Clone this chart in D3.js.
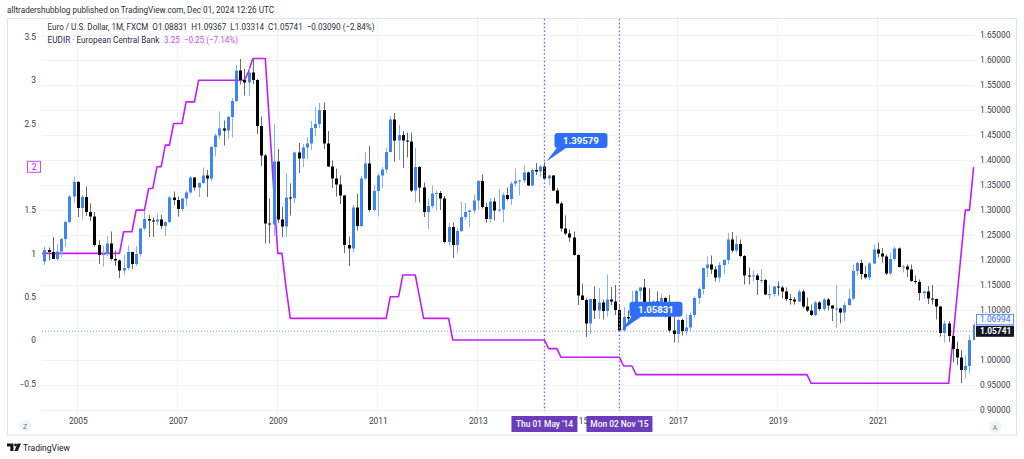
<!DOCTYPE html>
<html><head><meta charset="utf-8">
<script src="https://cdn.jsdelivr.net/npm/d3@7"></script>
<style>
body{margin:0;background:#fff;}
svg{display:block;font-family:Roboto,"Liberation Sans",sans-serif;}
</style>
</head><body><svg id="c" width="1024" height="459"></svg>
<script>
// ---------- DATA (monthly, first bar = Apr 2004) ----------
const firstYear = 2004, firstMonth = 3; // April (0-based)
const opens = [
 1.229,1.197,1.220,1.216,1.202,1.217,1.242,1.276,1.327,
 1.356,1.304,1.326,1.296,1.287,1.230,1.210,1.212,1.233,1.202,1.199,1.179,
 1.184,1.216,1.192,1.212,1.263,1.282,1.279,1.277,1.281,1.268,1.276,1.325,
 1.320,1.302,1.323,1.335,1.365,1.345,1.354,1.369,1.363,1.426,1.449,1.463,
 1.459,1.486,1.518,1.579,1.560,1.555,1.575,1.560,1.468,1.409,1.273,1.271,
 1.397,1.281,1.267,1.325,1.324,1.415,1.403,1.425,1.433,1.464,1.472,1.500,
 1.433,1.387,1.363,1.351,1.329,1.230,1.223,1.305,1.268,1.363,1.393,1.300,
 1.338,1.369,1.381,1.416,1.481,1.439,1.450,1.439,1.437,1.339,1.386,1.345,
 1.296,1.308,1.333,1.334,1.323,1.236,1.266,1.230,1.258,1.286,1.296,1.299,
 1.319,1.358,1.306,1.282,1.317,1.299,1.301,1.330,1.322,1.353,1.358,1.359,
 1.375,1.349,1.380,1.377,1.387,1.363,1.369,1.339,1.313,1.263,1.253,1.245,
 1.210,1.129,1.120,1.073,1.122,1.099,1.115,1.098,1.121,1.117,1.100,1.059,
 1.086,1.083,1.087,1.138,1.145,1.113,1.110,1.117,1.116,1.124,1.098,1.059,
 1.052,1.080,1.058,1.065,1.090,1.124,1.142,1.184,1.191,1.181,1.165,1.190,
 1.200,1.241,1.219,1.232,1.208,1.169,1.168,1.169,1.160,1.160,1.131,1.132,
 1.147,1.145,1.137,1.122,1.121,1.117,1.137,1.107,1.099,1.090,1.115,1.102,
 1.121,1.109,1.103,1.103,1.095,1.110,1.123,1.178,1.194,1.172,1.165,1.193,
 1.221,1.213,1.207,1.173,1.202,1.223,1.186,1.187,1.181,1.158,1.156,1.134,
 1.137,1.123,1.122,1.107,1.054,1.073,1.048,1.022,1.005,0.980,0.988,1.040];
const highs = [
 1.242,1.227,1.225,1.246,1.232,1.244,1.279,1.330,1.367,
 1.358,1.330,1.347,1.313,1.296,1.240,1.229,1.248,1.257,1.219,1.201,1.210,
 1.229,1.216,1.228,1.264,1.298,1.290,1.285,1.293,1.290,1.278,1.328,1.337,
 1.327,1.324,1.339,1.368,1.366,1.355,1.385,1.380,1.428,1.453,1.497,1.479,
 1.488,1.524,1.590,1.602,1.582,1.584,1.604,1.562,1.487,1.412,1.323,1.472,
 1.422,1.306,1.374,1.353,1.417,1.434,1.432,1.445,1.478,1.506,1.514,1.515,
 1.458,1.399,1.383,1.369,1.330,1.247,1.310,1.333,1.368,1.416,1.428,1.350,
 1.373,1.386,1.425,1.488,1.494,1.470,1.458,1.455,1.455,1.425,1.388,1.355,
 1.323,1.349,1.339,1.338,1.328,1.275,1.275,1.264,1.317,1.314,1.301,1.331,
 1.360,1.371,1.314,1.324,1.324,1.342,1.335,1.345,1.357,1.383,1.361,1.389,
 1.377,1.383,1.394,1.390,1.3958,1.370,1.370,1.344,1.317,1.289,1.261,1.257,
 1.211,1.153,1.123,1.122,1.147,1.144,1.121,1.171,1.146,1.150,1.110,1.106,
 1.099,1.138,1.141,1.146,1.162,1.143,1.119,1.137,1.133,1.126,1.130,1.087,
 1.083,1.083,1.091,1.095,1.127,1.145,1.185,1.207,1.209,1.188,1.196,1.202,
 1.254,1.256,1.248,1.241,1.210,1.185,1.179,1.173,1.182,1.162,1.150,1.148,
 1.157,1.149,1.145,1.132,1.126,1.141,1.141,1.125,1.111,1.118,1.118,1.124,
 1.124,1.110,1.150,1.105,1.115,1.142,1.191,1.197,1.201,1.188,1.196,1.231,
 1.235,1.224,1.211,1.215,1.227,1.225,1.190,1.191,1.191,1.169,1.161,1.139,
 1.148,1.150,1.123,1.108,1.079,1.078,1.049,1.037,1.020,1.009,1.050,1.074];
const lows = [
 1.176,1.190,1.199,1.202,1.198,1.205,1.226,1.274,1.314,
 1.286,1.281,1.288,1.278,1.227,1.192,1.187,1.207,1.199,1.188,1.164,1.171,
 1.180,1.182,1.188,1.206,1.260,1.246,1.246,1.270,1.262,1.248,1.274,1.310,
 1.287,1.297,1.308,1.333,1.339,1.326,1.352,1.326,1.357,1.407,1.442,1.429,
 1.443,1.445,1.515,1.551,1.529,1.528,1.552,1.452,1.388,1.233,1.233,1.248,
 1.274,1.246,1.246,1.289,1.314,1.374,1.386,1.401,1.420,1.448,1.464,1.422,
 1.386,1.344,1.327,1.312,1.214,1.188,1.215,1.259,1.265,1.360,1.297,1.297,
 1.287,1.344,1.374,1.415,1.397,1.400,1.384,1.405,1.336,1.315,1.315,1.286,
 1.262,1.303,1.300,1.300,1.233,1.229,1.204,1.213,1.256,1.280,1.266,1.293,
 1.300,1.303,1.275,1.275,1.279,1.296,1.275,1.319,1.310,1.347,1.329,1.354,
 1.348,1.347,1.370,1.367,1.360,1.350,1.338,1.313,1.257,1.250,1.236,1.209,
 1.110,1.126,1.046,1.052,1.082,1.082,1.081,1.087,1.110,1.090,1.0583,1.058,
 1.071,1.081,1.082,1.121,1.110,1.091,1.095,1.105,1.112,1.085,1.055,1.035,
 1.034,1.049,1.050,1.057,1.084,1.112,1.131,1.166,1.172,1.157,1.155,1.172,
 1.192,1.215,1.215,1.206,1.151,1.151,1.157,1.130,1.153,1.130,1.122,1.127,
 1.129,1.123,1.118,1.111,1.111,1.116,1.103,1.096,1.088,1.088,1.098,1.098,
 1.099,1.078,1.064,1.073,1.077,1.108,1.119,1.169,1.161,1.162,1.160,1.192,
 1.205,1.195,1.170,1.170,1.199,1.185,1.175,1.166,1.156,1.152,1.119,1.122,
 1.112,1.111,1.081,1.047,1.035,1.036,0.995,0.990,0.954,0.963,0.973,1.039];
const closes = [
 1.197,1.220,1.216,1.202,1.217,1.242,1.276,1.327,1.356,
 1.304,1.326,1.296,1.287,1.230,1.210,1.212,1.233,1.202,1.199,1.179,1.184,
 1.216,1.192,1.212,1.263,1.282,1.279,1.277,1.281,1.268,1.276,1.325,1.320,
 1.302,1.323,1.335,1.365,1.345,1.354,1.369,1.363,1.426,1.449,1.463,1.459,
 1.486,1.518,1.579,1.560,1.555,1.575,1.560,1.468,1.409,1.273,1.271,1.397,
 1.281,1.267,1.325,1.324,1.415,1.403,1.425,1.433,1.464,1.472,1.500,1.433,
 1.387,1.363,1.351,1.329,1.230,1.223,1.305,1.268,1.363,1.393,1.300,1.338,
 1.369,1.381,1.416,1.481,1.439,1.450,1.439,1.437,1.339,1.386,1.345,1.296,
 1.308,1.333,1.334,1.323,1.236,1.266,1.230,1.258,1.286,1.296,1.299,1.319,
 1.358,1.306,1.282,1.317,1.299,1.301,1.330,1.322,1.353,1.358,1.359,1.375,
 1.349,1.380,1.377,1.387,1.363,1.369,1.339,1.313,1.263,1.253,1.245,1.210,
 1.129,1.120,1.073,1.122,1.099,1.115,1.098,1.121,1.117,1.100,1.059,1.086,
 1.083,1.087,1.138,1.145,1.113,1.110,1.117,1.116,1.124,1.098,1.059,1.052,
 1.080,1.058,1.065,1.090,1.124,1.142,1.184,1.191,1.181,1.165,1.190,1.200,
 1.241,1.219,1.232,1.208,1.169,1.168,1.169,1.160,1.160,1.131,1.132,1.147,
 1.145,1.137,1.122,1.121,1.117,1.137,1.107,1.099,1.090,1.115,1.102,1.121,
 1.109,1.103,1.103,1.095,1.110,1.123,1.178,1.194,1.172,1.165,1.193,1.221,
 1.213,1.207,1.173,1.202,1.223,1.186,1.187,1.181,1.158,1.156,1.134,1.137,
 1.123,1.122,1.107,1.054,1.073,1.048,1.022,1.005,0.980,0.988,1.040,1.070];
// ECB deposit facility rate (EUDIR), monthly
const rates = [
 1,1,1,1,1,1,1,1,1,
 1,1,1,1,1,1,1,1,1,1,1,1.25,
 1.25,1.25,1.5,1.5,1.5,1.75,1.75,2,2,2.25,2.25,2.5,
 2.5,2.5,2.75,2.75,2.75,3,3,3,3,3,3,3,
 3,3,3,3,3,3.1,3.25,3.25,3.25,3.25,2.5,1.75,
 1,1,0.6,0.25,0.25,0.25,0.25,0.25,0.25,0.25,0.25,0.25,
 0.25,0.25,0.25,0.25,0.25,0.25,0.25,0.25,0.25,0.25,0.25,0.25,
 0.25,0.25,0.25,0.5,0.5,0.5,0.75,0.75,0.75,0.75,0.5,0.25,
 0.25,0.25,0.25,0.25,0.25,0.25,0,0,0,0,0,0,
 0,0,0,0,0,0,0,0,0,0,0,0,
 0,0,0,0,0,-0.1,-0.1,-0.1,-0.2,-0.2,-0.2,-0.2,
 -0.2,-0.2,-0.2,-0.2,-0.2,-0.2,-0.2,-0.2,-0.2,-0.2,-0.2,-0.3,
 -0.3,-0.3,-0.4,-0.4,-0.4,-0.4,-0.4,-0.4,-0.4,-0.4,-0.4,-0.4,
 -0.4,-0.4,-0.4,-0.4,-0.4,-0.4,-0.4,-0.4,-0.4,-0.4,-0.4,-0.4,
 -0.4,-0.4,-0.4,-0.4,-0.4,-0.4,-0.4,-0.4,-0.4,-0.4,-0.4,-0.4,
 -0.4,-0.4,-0.4,-0.4,-0.4,-0.4,-0.4,-0.4,-0.5,-0.5,-0.5,-0.5,
 -0.5,-0.5,-0.5,-0.5,-0.5,-0.5,-0.5,-0.5,-0.5,-0.5,-0.5,-0.5,
 -0.5,-0.5,-0.5,-0.5,-0.5,-0.5,-0.5,-0.5,-0.5,-0.5,-0.5,-0.5,
 -0.5,-0.5,-0.5,-0.5,-0.5,-0.5,0,0.5,1,1.5,1.5,2];
const yearTicks = [2005,2007,2009,2011,2013,2015,2017,2019,2021];
const priceTicks = [0.90,0.95,1.00,1.10,1.15,1.20,1.25,1.30,1.35,1.40,1.45,1.50,1.55,1.60,1.65];
const priceGrid = [0.90,0.95,1.00,1.05,1.10,1.15,1.20,1.25,1.30,1.35,1.40,1.45,1.50,1.55,1.60,1.65];
const rateTicks = [-0.5,0,0.5,1,1.5,2.5,3,3.5];
const lastClose = 1.05741, lastVisibleClose = 1.06994, lastRate = 2;
const markers = [{idx:121, price:1.39579, date:"Thu 01 May '14"}, {idx:139, price:1.05831, date:"Mon 02 Nov '15"}];
const titleText = "alltradershubblog published on TradingView.com, Dec 01, 2024 12:26 UTC";
const legend1 = "Euro / U.S. Dollar, 1M, FXCM  O1.08831  H1.09367  L1.03314  C1.05741  \u22120.03090 (\u22122.84%)";
const legend2a = "EUDIR \u00b7 European Central Bank";
const legend2b = "3.25  \u22120.25 (\u22127.14%)";

// ---------- LAYOUT ----------
const svg = d3.select("#c");
const P = {l:42, r:975, t:19, b:411};
const mIdx = i => i + (firstYear - 2005) * 12 + firstMonth;   // months since Jan 2005
const x = d3.scaleLinear().domain([0, 192]).range([77.8, 877.8]);
const yP = d3.scaleLinear().domain([0.90, 1.65]).range([410, 35]);
const yR = d3.scaleLinear().domain([-0.5, 3.5]).range([383.3, 36.9]);
const axisColor = "#3a3e48", fs = 8.4;

// frame
svg.append("rect").attr("x",7.5).attr("y",18.5).attr("width",1009).attr("height",416.5)
  .attr("fill","none").attr("stroke","#e0e3eb");

// grid
const grid = svg.append("g");
grid.selectAll("line.h").data(priceGrid).join("line")
  .attr("x1",P.l).attr("x2",P.r).attr("y1",d=>Math.round(yP(d))+0.5).attr("y2",d=>Math.round(yP(d))+0.5)
  .attr("stroke","#f0f3fa");
grid.selectAll("line.v").data(yearTicks).join("line")
  .attr("y1",P.t).attr("y2",P.b+4).attr("x1",d=>Math.floor(x((d-2005)*12))+0.5).attr("x2",d=>Math.floor(x((d-2005)*12))+0.5)
  .attr("stroke","#f0f3fa");

// clip
svg.append("clipPath").attr("id","pc").append("rect")
  .attr("x",P.l).attr("y",P.t).attr("width",P.r-P.l).attr("height",P.b-P.t);
const plot = svg.append("g").attr("clip-path","url(#pc)");

// last price dotted line
plot.append("line").attr("x1",P.l).attr("x2",P.r)
  .attr("y1",yP(lastClose)).attr("y2",yP(lastClose))
  .attr("stroke","#9598a1").attr("stroke-dasharray","1,2");

// rate line
const rateLine = d3.line().x((d,i)=>x(mIdx(i))).y(d=>yR(d));
plot.append("path").datum(rates).attr("d",rateLine)
  .attr("fill","none").attr("stroke","#c21cff").attr("stroke-width",1.6).attr("stroke-linejoin","round");

// candles
const up = "#3d85f5", upW = "#86b2f8", dn = "#000", dnW = "#6a6a6a";
const cd = opens.map((o,i)=>({o, h:highs[i], l:lows[i], c:closes[i], i}));
const cg = plot.append("g");
cg.selectAll("line").data(cd).join("line")
  .attr("x1",d=>Math.round(x(mIdx(d.i)))+0.5).attr("x2",d=>Math.round(x(mIdx(d.i)))+0.5)
  .attr("y1",d=>yP(d.h)).attr("y2",d=>yP(d.l))
  .attr("stroke",d=>d.c>=d.o?upW:dnW).attr("stroke-width",1);
cg.selectAll("rect").data(cd).join("rect")
  .attr("x",d=>Math.round(x(mIdx(d.i)))-1).attr("width",3)
  .attr("y",d=>yP(Math.max(d.o,d.c)))
  .attr("height",d=>Math.max(1, yP(Math.min(d.o,d.c))-yP(Math.max(d.o,d.c))))
  .attr("fill",d=>d.c>=d.o?up:dn);

// dotted verticals
markers.forEach(m=>{
  const mx = x(mIdx(m.idx));
  svg.append("line").attr("x1",mx).attr("x2",mx).attr("y1",P.t).attr("y2",P.b)
    .attr("stroke","#8a63d2").attr("stroke-width",1.3).attr("stroke-dasharray","1.6,2.2");
});

// callouts
const blue = "#2f6ff5";
markers.forEach(m=>{
  const ax = x(mIdx(m.idx)) + 2, ay = yP(m.price);
  const bx = ax + 8, by = ay - 29, bw = 53, bh = 15;
  const g = svg.append("g");
  g.append("path").attr("d",`M${bx+3},${by+bh-1} L${bx+13},${by+bh-1} L${ax},${ay-0.5} Z`).attr("fill",blue);
  g.append("rect").attr("x",bx).attr("y",by).attr("width",bw).attr("height",bh).attr("rx",3).attr("fill",blue);
  g.append("text").attr("x",bx+bw/2).attr("y",by+bh/2+3.4).attr("text-anchor","middle")
    .attr("fill","#fff").attr("font-size",9.6).attr("font-weight",700).text(m.price.toFixed(5));
});

// left axis
const la = svg.append("g").attr("transform","translate(36,0)")
  .call(d3.axisLeft(yR).tickValues(rateTicks).tickSize(0).tickPadding(0)
    .tickFormat(d=> d<0 ? "\u2212"+Math.abs(d) : String(d)));
la.select(".domain").remove();
la.selectAll("text").attr("fill",axisColor).attr("font-size",fs).attr("font-family","Roboto,sans-serif");

// right axis
const ra = svg.append("g").attr("transform","translate(980,0)")
  .call(d3.axisRight(yP).tickValues(priceTicks).tickSize(0).tickPadding(0).tickFormat(d3.format(".5f")));
ra.select(".domain").remove();
ra.selectAll("text").attr("fill",axisColor).attr("font-size",fs).attr("font-family","Roboto,sans-serif");

// bottom axis (2015 label is mostly hidden behind the date labels; only "15" shows)
const ba = svg.append("g").attr("transform","translate(0,421)")
  .call(d3.axisBottom(x).tickValues(yearTicks.map(y=>(y-2005)*12)).tickSize(0).tickPadding(0)
    .tickFormat(v=>String(2005+v/12)));
ba.select(".domain").remove();
ba.selectAll("text").attr("fill",axisColor).attr("font-size",fs).attr("font-family","Roboto,sans-serif").attr("dy","0.35em");
const boxHalf = 33;
ba.selectAll(".tick").filter(v=>2005+v/12===2015).select("text")
  .text("15").attr("text-anchor","start")
  .attr("x", x(mIdx(markers[0].idx)) + boxHalf + 0.8 - x((2015-2005)*12));

// date labels on time axis
markers.forEach(m=>{
  const mx = x(mIdx(m.idx));
  svg.append("rect").attr("x",mx-boxHalf).attr("y",416).attr("width",boxHalf*2).attr("height",16).attr("fill","#6a3dbb");
  svg.append("text").attr("x",mx).attr("y",427).attr("text-anchor","middle").attr("fill","#fff")
    .attr("font-size",8.4).attr("font-weight",500).text(m.date);
});

// price labels on right axis
const yl = yP(lastClose);
svg.append("rect").attr("x",976).attr("y",yl-5.5).attr("width",38).attr("height",11).attr("fill","#131722");
svg.append("text").attr("x",980).attr("y",yl+3).attr("fill","#fff").attr("font-size",fs).attr("font-weight",700).text(lastClose.toFixed(5));
svg.append("rect").attr("x",976.5).attr("y",yl-17).attr("width",37).attr("height",10.5).attr("fill","#fff").attr("stroke",blue).attr("stroke-width",0.8);
svg.append("text").attr("x",980).attr("y",yl-8.8).attr("fill",blue).attr("font-size",fs).text(lastVisibleClose.toFixed(5));

// last rate label on left axis
const yr = yR(lastRate);
svg.append("rect").attr("x",27.5).attr("y",yr-5.5).attr("width",13).attr("height",11).attr("fill","#fff").attr("stroke","#d04cf5").attr("stroke-width",1);
svg.append("text").attr("x",34).attr("y",yr+3).attr("text-anchor","middle").attr("fill","#c21cff").attr("font-size",fs).text(lastRate);

// Z / A buttons
[[25,426,"Z"],[995,427,"A"]].forEach(([cx,cy,t])=>{
  svg.append("circle").attr("cx",cx).attr("cy",cy).attr("r",6.5).attr("fill","#f0f3fa");
  svg.append("text").attr("x",cx).attr("y",cy+2.6).attr("text-anchor","middle").attr("fill","#787b86").attr("font-size",7).text(t);
});

// header texts
svg.append("text").attr("x",7).attr("y",12.5).attr("font-size",9.5).attr("fill","#2a2e39")
  .attr("textLength",267).attr("lengthAdjust","spacingAndGlyphs").text(titleText);
svg.append("text").attr("x",47.5).attr("y",30).attr("font-size",9).attr("fill","#2a2e39").attr("xml:space","preserve")
  .attr("textLength",327).attr("lengthAdjust","spacingAndGlyphs").text(legend1);
svg.append("text").attr("x",47.5).attr("y",42.5).attr("font-size",9).attr("fill","#2a2e39")
  .attr("textLength",112).attr("lengthAdjust","spacingAndGlyphs").text(legend2a);
svg.append("text").attr("x",164).attr("y",42.5).attr("font-size",9).attr("fill","#c94dff").attr("xml:space","preserve")
  .attr("textLength",74).attr("lengthAdjust","spacingAndGlyphs").text(legend2b);

// TradingView logo
svg.append("path").attr("d","M7,443.5h6.5v7.5h-3.2v-4.6h-3.3z").attr("fill","#131722");
svg.append("circle").attr("cx",15.6).attr("cy",445).attr("r",1.4).attr("fill","#131722");
svg.append("path").attr("d","M17.6,443.5h3.4l-3.2,7.5h-3.4z").attr("fill","#131722");
svg.append("text").attr("x",23).attr("y",450.5).attr("font-size",9.5).attr("fill","#131722")
  .attr("textLength",47).attr("lengthAdjust","spacingAndGlyphs").text("TradingView");
</script>
</body></html>
